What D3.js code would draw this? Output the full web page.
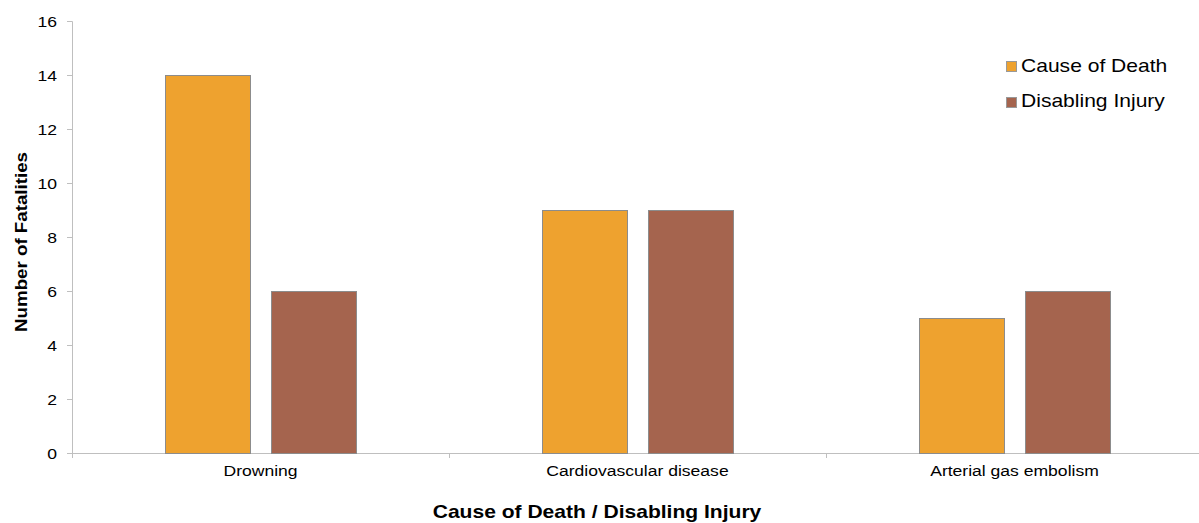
<!DOCTYPE html>
<html><head><meta charset="utf-8">
<script src="https://cdn.jsdelivr.net/npm/d3@7"></script>
<style>body{margin:0;background:#fff}svg{display:block}text{font-family:"Liberation Sans",Arial,sans-serif}</style>
</head><body>
<svg id="c" width="1199" height="523"></svg>
<script>
const categories = ["Drowning", "Cardiovascular disease", "Arterial gas embolism"];
const seriesNames = ["Cause of Death", "Disabling Injury"];
const causeOfDeath = [14, 9, 5];
const disablingInjury = [6, 9, 6];
const yTicks = [0, 2, 4, 6, 8, 10, 12, 14, 16];
const colors = ["#EEA22F", "#A5644E"];

(function(){
const svg = d3.select("#c");
const SX = 1.17; // horizontal text stretch seen in the reference
const mLeft = 72, mRight = 1203, mTop = 21, mBottom = 453;
const x = d3.scaleBand().domain(categories).range([mLeft, mRight]).paddingInner(0).paddingOuter(0);
const x1 = d3.scaleBand().domain(seriesNames).range([0, x.bandwidth()]).paddingInner(0.2056).paddingOuter(0.8645);
const y = d3.scaleLinear().domain([0, 16]).range([mBottom, mTop]);

// y axis
const ya = svg.append("g").attr("transform", `translate(${mLeft},0)`)
  .call(d3.axisLeft(y).tickValues(yTicks).tickSize(5).tickPadding(8));
ya.select(".domain").attr("stroke", "#bfbfbf");
ya.selectAll(".tick line").attr("stroke", "#bfbfbf");
ya.selectAll(".tick text").attr("font-size", 15).attr("fill", "#000")
  .attr("font-family", "Liberation Sans, Arial, sans-serif")
  .attr("x", -15 / SX).attr("dy", "0.36em").attr("transform", `scale(${SX},1)`);

// x axis
const xa = svg.append("g").attr("transform", `translate(0,${mBottom})`)
  .call(d3.axisBottom(x).tickSize(0).tickPadding(12));
xa.select(".domain").attr("stroke", "#bfbfbf");
xa.selectAll(".tick text").attr("font-size", 15).attr("fill", "#000")
  .attr("font-family", "Liberation Sans, Arial, sans-serif")
  .attr("dy", "0.71em").attr("transform", `scale(${SX},1)`);
const bounds = categories.map(c => x(c)).concat([x(categories[categories.length-1]) + x.bandwidth()]);
svg.append("g").selectAll("line").data(bounds).join("line")
  .attr("x1", d => d + 0.5).attr("x2", d => d + 0.5).attr("y1", mBottom).attr("y2", mBottom + 5)
  .attr("stroke", "#bfbfbf");

// bars
const data = categories.map((c, i) => ({c, vals: [causeOfDeath[i], disablingInjury[i]]}));
const g = svg.append("g").selectAll("g").data(data).join("g")
  .attr("transform", d => `translate(${x(d.c)},0)`);
g.selectAll("rect").data(d => d.vals.map((v, j) => ({s: seriesNames[j], v, j}))).join("rect")
  .attr("x", d => Math.round(x1(d.s)) + 0.5).attr("width", Math.round(x1.bandwidth()))
  .attr("y", d => y(d.v) + 0.5).attr("height", d => y(0) - y(d.v))
  .attr("fill", d => colors[d.j]).attr("stroke", "#8c8c8c").attr("stroke-width", 1);

// legend
const lg = svg.append("g");
seriesNames.forEach((s, i) => {
  lg.append("rect").attr("x", 1006.5).attr("y", 61.5 + i * 36).attr("width", 10).attr("height", 10)
    .attr("fill", colors[i]).attr("stroke", "#999");
  lg.append("text").attr("transform", `translate(1021,${72 + i * 35}) scale(${SX},1)`)
    .attr("font-size", 18).attr("fill", "#000").text(s);
});

// titles
svg.append("text").attr("transform", `translate(27,${(mTop+mBottom)/2 + 5}) rotate(-90) scale(${SX},1)`)
  .attr("text-anchor", "middle").attr("font-size", 16).attr("font-weight", "bold").text("Number of Fatalities");
svg.append("text").attr("transform", `translate(597,518) scale(${SX},1)`).attr("text-anchor", "middle")
  .attr("font-size", 18).attr("font-weight", "bold").text("Cause of Death / Disabling Injury");
})();
</script>
</body></html>
